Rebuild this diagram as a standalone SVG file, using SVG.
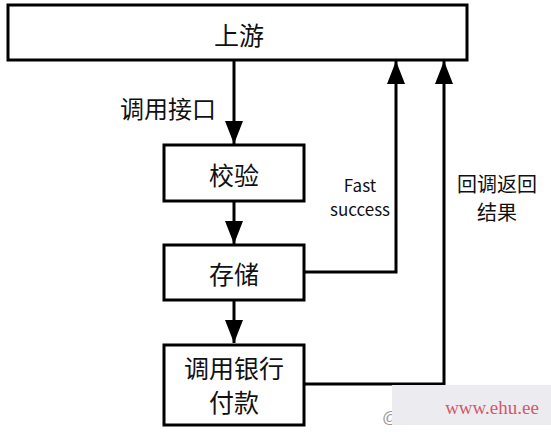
<svg xmlns="http://www.w3.org/2000/svg" width="551" height="441" viewBox="0 0 551 441">
<defs>
<marker id="ah" markerWidth="23" markerHeight="18" refX="23" refY="9" orient="auto" markerUnits="userSpaceOnUse" viewBox="0 0 23 18">
<path d="M0,0 L23,9 L0,18 Z" fill="#000"/>
</marker>
<style>
.box{fill:#fff;stroke:#000;stroke-width:3}
.ln{fill:none;stroke:#000;stroke-width:3}
.t{font-family:"Noto Sans CJK SC","Liberation Sans",sans-serif;fill:#111;text-anchor:middle}
</style>
</defs>
<rect width="551" height="441" fill="#fff"/>
<g id="connectors">
<line class="ln" x1="234" y1="60" x2="234" y2="144" marker-end="url(#ah)"/>
<line class="ln" x1="234" y1="201" x2="234" y2="244" marker-end="url(#ah)"/>
<line class="ln" x1="234" y1="300" x2="234" y2="343" marker-end="url(#ah)"/>
<polyline class="ln" points="304,272 396,272 396,61" marker-end="url(#ah)"/>
<polyline class="ln" points="304,384 444,384 444,61" marker-end="url(#ah)"/>
<text class="t" x="168" y="118" font-size="24">调用接口</text>
<text class="t" x="360" y="192" font-size="17">Fast</text>
<text class="t" x="360" y="216" font-size="17">success</text>
<text class="t" x="497" y="192" font-size="20">回调返回</text>
<text class="t" x="497" y="220" font-size="20">结果</text>
</g>
<g id="upstream">
<rect class="box" x="8" y="5" width="459" height="55"/>
<text class="t" x="239" y="45" font-size="25">上游</text>
</g>
<g id="verify">
<rect class="box" x="164" y="145" width="140" height="56"/>
<text class="t" x="234" y="185" font-size="25">校验</text>
</g>
<g id="store">
<rect class="box" x="164" y="245" width="140" height="55"/>
<text class="t" x="234" y="284" font-size="25">存储</text>
</g>
<g id="bank">
<rect class="box" x="164" y="345" width="140" height="80"/>
<text class="t" x="234" y="378" font-size="25">调用银行</text>
<text class="t" x="234" y="412" font-size="25">付款</text>
</g>
<g id="watermark">
<text x="382" y="423" font-family="Liberation Sans,sans-serif" font-size="17" fill="#999">@</text>
<rect x="392" y="385" width="159" height="40" fill="#ececf0"/>
<text x="492" y="414" font-family="Liberation Serif,serif" font-size="19" fill="#d05a6a" text-anchor="middle">www.ehu.ee</text>
</g>
</svg>
